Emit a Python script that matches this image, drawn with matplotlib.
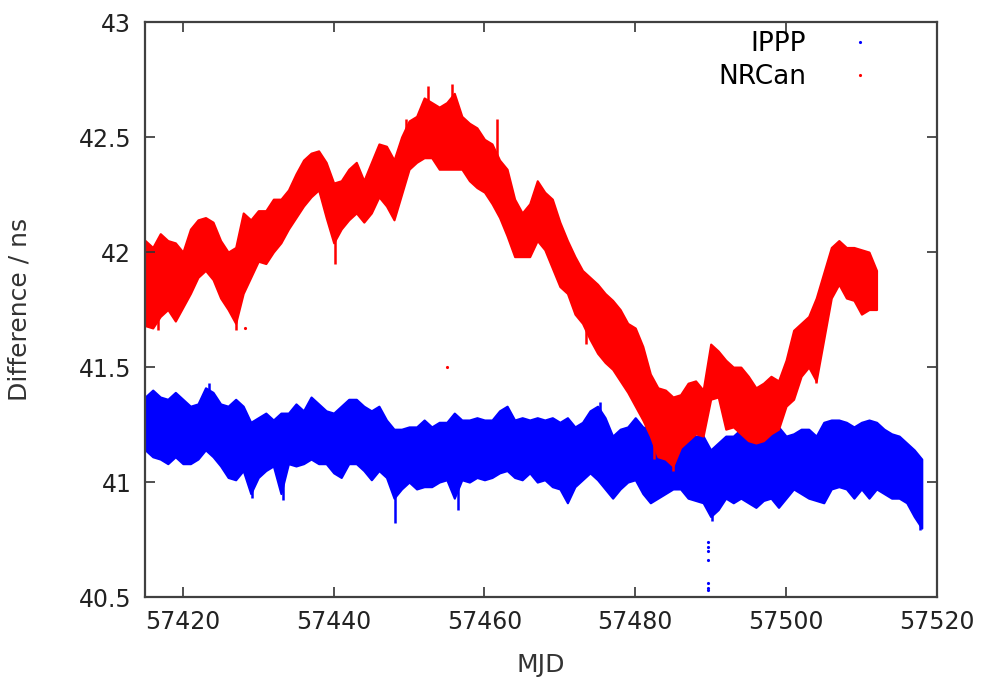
import matplotlib
matplotlib.use('Agg')
import matplotlib.pyplot as plt
from matplotlib.lines import Line2D
import numpy as np

# daily envelope (upper / lower edge) of the two time-difference series, ns
nrcan_mjd = list(range(57415, 57513))
nrcan_hi = [42.05, 42.02, 42.08, 42.05, 42.04, 42.00, 42.10, 42.14, 42.15, 42.13,
            42.05, 42.00, 42.02, 42.17, 42.14, 42.18, 42.18, 42.23, 42.23, 42.27,
            42.34, 42.40, 42.43, 42.44, 42.39, 42.30, 42.31, 42.36, 42.39, 42.31,
            42.39, 42.47, 42.46, 42.40, 42.50, 42.57, 42.59, 42.67, 42.65, 42.63,
            42.65, 42.69, 42.59, 42.56, 42.54, 42.49, 42.47, 42.40, 42.36, 42.23,
            42.17, 42.21, 42.31, 42.26, 42.23, 42.13, 42.05, 41.98, 41.92, 41.89,
            41.86, 41.82, 41.79, 41.75, 41.69, 41.67, 41.59, 41.47, 41.41, 41.40,
            41.37, 41.38, 41.43, 41.44, 41.40, 41.60, 41.57, 41.53, 41.50, 41.50,
            41.46, 41.41, 41.43, 41.46, 41.44, 41.53, 41.66, 41.69, 41.72, 41.80,
            41.91, 42.02, 42.05, 42.02, 42.02, 42.01, 42.00, 41.92]
nrcan_lo = [41.68, 41.67, 41.72, 41.75, 41.70, 41.76, 41.82, 41.89, 41.92, 41.88,
            41.80, 41.75, 41.69, 41.82, 41.89, 41.96, 41.95, 42.00, 42.04, 42.10,
            42.15, 42.20, 42.24, 42.27, 42.15, 42.04, 42.10, 42.14, 42.17, 42.13,
            42.17, 42.24, 42.20, 42.14, 42.25, 42.36, 42.39, 42.41, 42.41, 42.36,
            42.36, 42.36, 42.36, 42.31, 42.28, 42.26, 42.21, 42.15, 42.07, 41.98,
            41.98, 41.98, 42.05, 42.01, 41.93, 41.85, 41.82, 41.73, 41.69, 41.62,
            41.56, 41.52, 41.49, 41.44, 41.39, 41.33, 41.27, 41.20, 41.11, 41.10,
            41.07, 41.15, 41.18, 41.21, 41.20, 41.36, 41.37, 41.23, 41.24, 41.21,
            41.18, 41.17, 41.18, 41.21, 41.23, 41.33, 41.36, 41.46, 41.50, 41.44,
            41.62, 41.80, 41.86, 41.80, 41.79, 41.73, 41.75, 41.75]

ippp_mjd = list(range(57415, 57519))
ippp_hi = [41.37, 41.40, 41.37, 41.36, 41.39, 41.36, 41.33, 41.34, 41.41, 41.39,
           41.34, 41.33, 41.36, 41.33, 41.26, 41.28, 41.30, 41.27, 41.30, 41.30,
           41.34, 41.31, 41.37, 41.34, 41.31, 41.30, 41.33, 41.36, 41.36, 41.33,
           41.31, 41.33, 41.27, 41.23, 41.23, 41.24, 41.24, 41.27, 41.24, 41.26,
           41.26, 41.30, 41.27, 41.27, 41.28, 41.27, 41.27, 41.31, 41.33, 41.27,
           41.28, 41.27, 41.28, 41.27, 41.28, 41.26, 41.28, 41.24, 41.26, 41.31,
           41.33, 41.28, 41.20, 41.23, 41.24, 41.28, 41.24, 41.23, 41.21, 41.20,
           41.20, 41.20, 41.20, 41.20, 41.20, 41.14, 41.17, 41.20, 41.20, 41.23,
           41.23, 41.21, 41.20, 41.21, 41.24, 41.20, 41.21, 41.23, 41.23, 41.20,
           41.26, 41.27, 41.27, 41.26, 41.24, 41.26, 41.27, 41.26, 41.23, 41.21,
           41.20, 41.17, 41.14, 41.10]
ippp_lo = [41.14, 41.11, 41.10, 41.08, 41.11, 41.08, 41.08, 41.10, 41.14, 41.11,
           41.07, 41.02, 41.01, 41.05, 40.95, 41.02, 41.05, 41.07, 40.95, 41.08,
           41.07, 41.08, 41.10, 41.08, 41.08, 41.04, 41.02, 41.08, 41.08, 41.05,
           41.01, 41.05, 41.02, 40.93, 40.97, 41.00, 40.97, 40.98, 40.98, 41.00,
           41.01, 40.93, 41.01, 41.00, 41.02, 41.01, 41.02, 41.04, 41.05, 41.02,
           41.01, 41.04, 41.00, 41.01, 40.98, 40.97, 40.91, 40.98, 41.01, 41.04,
           41.01, 40.97, 40.93, 40.97, 41.00, 41.01, 40.95, 40.91, 40.93, 40.95,
           40.97, 40.97, 40.93, 40.92, 40.91, 40.85, 40.88, 40.93, 40.91, 40.93,
           40.91, 40.89, 40.92, 40.93, 40.89, 40.93, 40.97, 40.95, 40.93, 40.92,
           40.91, 40.97, 40.98, 40.97, 40.93, 40.97, 40.93, 40.97, 40.95, 40.93,
           40.93, 40.91, 40.85, 40.80]

# short excursions beyond the envelopes: (mjd, low, high)
nrcan_spikes = [(57461.6, 42.20, 42.58), (57440.2, 41.95, 42.20), (57427.0, 41.66, 41.80),
                (57504.0, 41.43, 41.60), (57485.0, 41.05, 41.20), (57416.7, 41.66, 41.80),
                (57455.7, 42.50, 42.73), (57452.5, 42.50, 42.72), (57449.6, 42.40, 42.58),
                (57473.5, 41.60, 41.80), (57482.5, 41.10, 41.25)]
ippp_spikes = [(57448.1, 40.82, 41.00), (57433.3, 40.92, 41.05), (57429.2, 40.93, 41.00),
               (57517.8, 40.79, 40.90), (57456.5, 40.88, 41.00), (57423.4, 41.30, 41.43),
               (57475.3, 41.25, 41.35), (57490.2, 40.83, 40.95)]

# isolated points
nrcan_out_x = [57455.0, 57428.2]
nrcan_out_y = [41.50, 41.67]
ippp_out_x = [57489.7, 57489.7, 57489.7, 57489.7, 57489.7, 57489.7, 57489.7]
ippp_out_y = [40.74, 40.72, 40.70, 40.66, 40.56, 40.54, 40.53]

fig = plt.figure(figsize=(9.81, 6.77), dpi=100)
ax = fig.add_axes([0.148, 0.118, 0.807, 0.8495])

ax.fill_between(ippp_mjd, ippp_lo, ippp_hi, color='#0000ff', lw=1.5, edgecolor='#0000ff')
for x, lo, hi in ippp_spikes:
    ax.vlines(x, lo, hi, color='#0000ff', lw=1.8)
ax.plot(ippp_out_x, ippp_out_y, '.', color='#0000ff', ms=2.5)

ax.fill_between(nrcan_mjd, nrcan_lo, nrcan_hi, color='#ff0000', lw=1.5, edgecolor='#ff0000')
for x, lo, hi in nrcan_spikes:
    ax.vlines(x, lo, hi, color='#ff0000', lw=1.8)
ax.plot(nrcan_out_x, nrcan_out_y, '.', color='#ff0000', ms=2.5)

ax.set_xlim(57415, 57520)
ax.set_ylim(40.5, 43)
ax.set_xticks([57420, 57440, 57460, 57480, 57500, 57520])
ax.set_yticks([40.5, 41, 41.5, 42, 42.5, 43])
ax.set_yticklabels(['40.5', '41', '41.5', '42', '42.5', '43'])
ax.tick_params(direction='in', length=7, width=1.2, color='#333333', top=True, right=True,
               labelsize=17, labelcolor='#222222')
ax.tick_params(axis='x', pad=9)
ax.tick_params(axis='y', pad=10)
for s in ax.spines.values():
    s.set_linewidth(1.6)
    s.set_color('#404040')

ax.set_xlabel('MJD', fontsize=18, color='#333333', labelpad=14)
ax.set_ylabel('Difference / ns', fontsize=18, color='#333333', labelpad=34)

handles = [Line2D([], [], ls='none', marker='.', ms=2.5, color='#0000ff'),
           Line2D([], [], ls='none', marker='.', ms=2.5, color='#ff0000')]
ax.legend(handles, ['IPPP', 'NRCan'], loc='upper right', frameon=False, markerfirst=False,
          fontsize=19, handlelength=2.5, handletextpad=0.8, labelspacing=0.25,
          bbox_to_anchor=(0.975, 1.025))

plt.savefig('out.png', dpi=100)
